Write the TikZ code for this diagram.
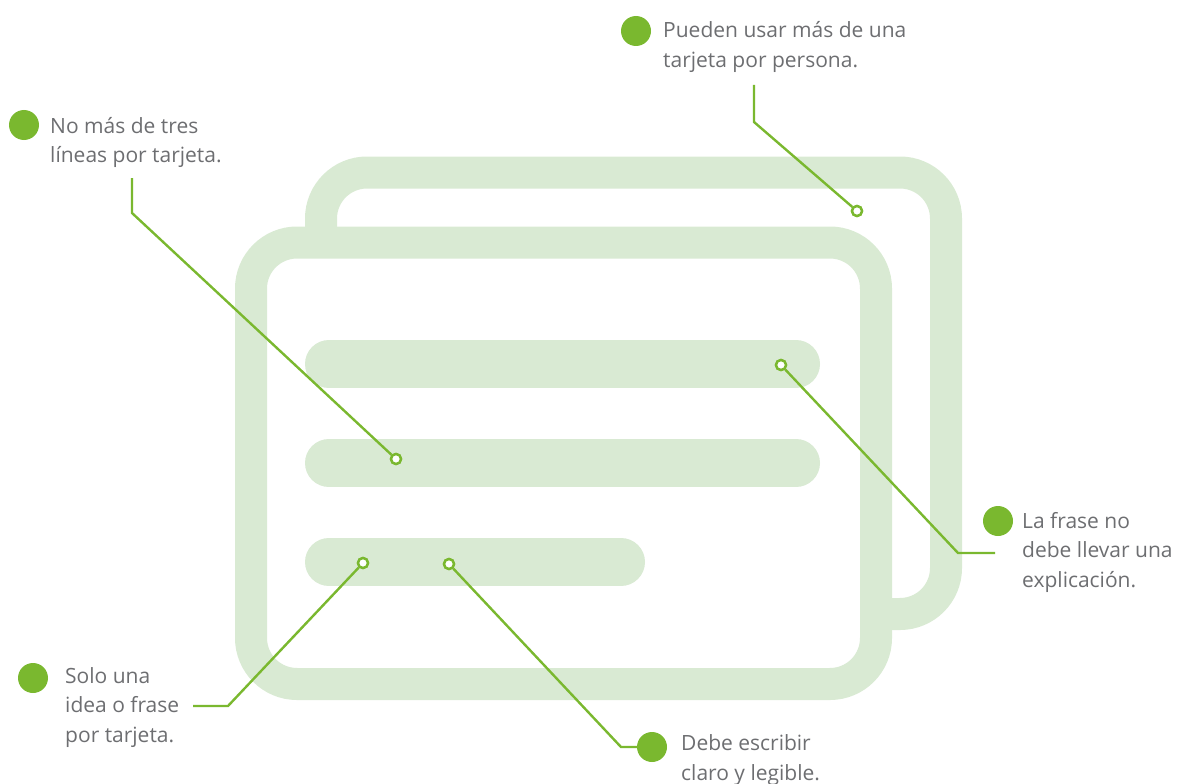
\documentclass[tikz,border=0pt]{standalone}
\usepackage{fontspec}
\setmainfont{Open Sans}
\definecolor{cardgreen}{HTML}{D9EAD3}
\definecolor{dotgreen}{HTML}{7AB82F}
\definecolor{txtgray}{HTML}{6D6E71}
\begin{document}
\begin{tikzpicture}[x=1pt,y=-1pt,
  card/.style={draw=cardgreen,line width=32pt,rounded corners=46pt},
  bar/.style={draw=cardgreen,line width=48pt,line cap=round},
  conn/.style={draw=dotgreen,line width=2.4pt},
  tip/.style={circle,draw=dotgreen,fill=white,line width=2.4pt,minimum size=10pt,inner sep=0pt},
  dot/.style={circle,fill=dotgreen,minimum size=30pt,inner sep=0pt},
  lbl/.style={anchor=base west,inner sep=0pt,align=left,text=txtgray,font=\fontsize{21}{29.5}\selectfont}]
\useasboundingbox (0,0) rectangle (1179,784);
% back card
\draw[card] (321,172.5) rectangle (946,614);
% front card
\draw[card,fill=white] (251,242.5) rectangle (876,684);
% text bars
\draw[bar] (329,364) -- (796,364);
\draw[bar] (329,463) -- (796,463);
\draw[bar] (329,562) -- (621,562);
% dots and labels (anchor = baseline of last line)
\node[dot] (d1) at (636,31) {};
\node[lbl] (t1) at (663,67.5) {Pueden usar más de una\\tarjeta por persona.};
\node[dot] (d2) at (24,125) {};
\node[lbl] (t2) at (50,162.5) {No más de tres\\líneas por tarjeta.};
\node[dot] (d3) at (33,678) {};
\node[lbl] (t3) at (65,742) {Solo una\\idea o frase\\por tarjeta.};
\node[dot] (d4) at (652,747) {};
\node[lbl] (t4) at (681,780) {Debe escribir\\claro y legible.};
\node[dot] (d5) at (998,521) {};
\node[lbl] (t5) at (1022,587) {La frase no\\debe llevar una\\explicación.};
% tips
\node[tip] (p1) at (857,211) {};
\node[tip] (p2) at (396,459) {};
\node[tip] (p3) at (363,563) {};
\node[tip] (p4) at (449,564) {};
\node[tip] (p5) at (781,365) {};
% connector points
\coordinate (s1) at (754,85);
\coordinate (b1) at (754,122);
\coordinate (s2) at (132,178);
\coordinate (b2) at (132,213);
\coordinate (s3) at (193,706);
\coordinate (b3) at (228,706);
\coordinate (b4) at (621,747);
\coordinate (b5) at (958,553);
\coordinate (s5) at (995,553);
% connectors
\draw[conn] (s1) -- (b1) -- (p1);
\draw[conn] (s2) -- (b2) -- (p2);
\draw[conn] (s3) -- (b3) -- (p3);
\draw[conn] (p4) -- (b4) -- (d4);
\draw[conn] (p5) -- (b5) -- (s5);
% redraw tips on top
\node[tip] at (p1) {};
\node[tip] at (p2) {};
\node[tip] at (p3) {};
\node[tip] at (p4) {};
\node[tip] at (p5) {};
\end{tikzpicture}
\end{document}
